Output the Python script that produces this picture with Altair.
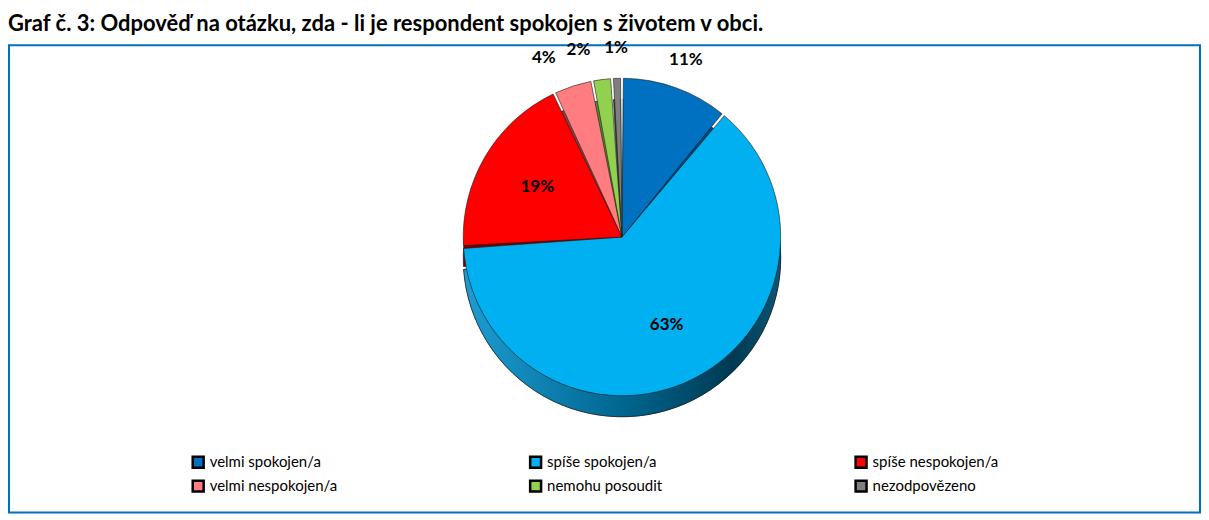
import altair as alt
import pandas as pd

# ---- data ----
categories = ["velmi spokojen/a", "spíše spokojen/a", "spíše nespokojen/a",
              "velmi nespokojen/a", "nemohu posoudit", "nezodpovězeno"]
shares = [11, 63, 19, 4, 2, 1]
order = [0, 1, 2, 3, 4, 5]
title_text = "Graf č. 3: Odpověď na otázku, zda - li je respondent spokojen s životem v obci."

# ---- styles ----
top_colors = ["#0070C0", "#00B0F0", "#FF0000", "#FF7C80", "#92D050", "#7F7F7F"]
side_colors = ["#00467A", "#0A6E98", "#7A0000", "#8A4446", "#5C8530", "#404040"]
FONT = "Lato"
W, H = 1193, 468
CX, CY = 614, 192
R = 159
DEPTH = 21

# legend is laid out column by column: list entries so that rows read left to right
legend_order = [categories[i] for i in (0, 3, 1, 4, 2, 5)]

df = pd.DataFrame({"cat": categories, "value": shares, "order": order})

base = alt.Chart(df).transform_window(
    end="sum(value)", sort=[alt.SortField("order")], frame=[None, 0]
).transform_calculate(
    start="datum.end - datum.value",
    mid="datum.end - datum.value / 2",
    label="datum.value + '%'",
)

theta_scale = alt.Scale(domain=[0, 100], range=[0, 6.283185307])

box = alt.Chart(alt.Data(values=[{}])).mark_rect(
    fill="white", stroke="#0070C0", strokeWidth=2
).encode(x=alt.value(0), x2=alt.value(W), y=alt.value(0), y2=alt.value(H))

side = base.mark_arc(outerRadius=R, padAngle=0.018, stroke="#1a1a1a", strokeWidth=0.6).encode(
    theta=alt.Theta("start:Q", scale=theta_scale),
    theta2="end:Q",
    color=alt.Color("cat:N", scale=alt.Scale(domain=categories, range=side_colors), legend=None),
    x=alt.value(CX), y=alt.value(CY + DEPTH),
)

side_grad = base.transform_filter(alt.datum.order == 1).mark_arc(
    outerRadius=R, padAngle=0.018, stroke="#1a1a1a", strokeWidth=0.6,
    color=alt.LinearGradient(
        gradient="linear", x1=0, y1=0, x2=1, y2=0,
        stops=[alt.GradientStop(offset=0, color="#1C9DD3"),
               alt.GradientStop(offset=0.5, color="#006690"),
               alt.GradientStop(offset=0.85, color="#003A52"),
               alt.GradientStop(offset=1, color="#0B5676")],
    ),
).encode(
    theta=alt.Theta("start:Q", scale=theta_scale),
    theta2="end:Q",
    x=alt.value(CX), y=alt.value(CY + DEPTH),
)

top = base.mark_arc(outerRadius=R, padAngle=0.018, stroke="#1a1a1a", strokeWidth=0.6).encode(
    theta=alt.Theta("start:Q", scale=theta_scale),
    theta2="end:Q",
    color=alt.Color(
        "cat:N",
        scale=alt.Scale(domain=categories, range=top_colors),
        legend=alt.Legend(
            title=None, orient="none", legendX=182, legendY=410, columns=3,
            values=legend_order,
            columnPadding=188, rowPadding=3, symbolType="square", symbolSize=120,
            symbolStrokeColor="black", symbolStrokeWidth=2.5, symbolOffset=0,
            labelFont=FONT, labelFontSize=15, labelColor="black", labelOffset=4,
            padding=0, labelLimit=300,
        ),
    ),
    x=alt.value(CX), y=alt.value(CY),
)

txt_in = base.transform_filter(alt.datum.value >= 15).mark_text(
    radius=R * 0.62, font=FONT, fontSize=17, fontWeight="bold", color="black"
).encode(
    theta=alt.Theta("mid:Q", scale=theta_scale, stack=False),
    text="label:N", x=alt.value(CX), y=alt.value(CY),
)

txt_left = base.transform_filter(
    "datum.value < 15 && datum.mid > 50 && datum.mid < 99"
).mark_text(
    radius=R + 30, font=FONT, fontSize=17, fontWeight="bold", color="black",
    align="right", dx=-8,
).encode(
    theta=alt.Theta("mid:Q", scale=theta_scale, stack=False),
    text="label:N", x=alt.value(CX), y=alt.value(CY),
)

txt_other = base.transform_filter(
    "datum.value < 15 && (datum.mid <= 50 || datum.mid >= 99)"
).mark_text(
    radius=R + 30, font=FONT, fontSize=17, fontWeight="bold", color="black", align="center"
).encode(
    theta=alt.Theta("mid:Q", scale=theta_scale, stack=False),
    text="label:N", x=alt.value(CX), y=alt.value(CY),
)

chart = alt.layer(box, side, side_grad, top, txt_in, txt_left, txt_other).resolve_scale(
    color="independent"
).properties(
    width=W, height=H, padding={"top": 5, "left": 0, "right": 0, "bottom": 0},
    title=alt.TitleParams(title_text, anchor="start", font=FONT, fontSize=22,
                          fontWeight="bold", color="black", offset=3),
).configure_view(stroke=None)

chart.save("out.html", embed_options={"renderer": "svg", "actions": False})
